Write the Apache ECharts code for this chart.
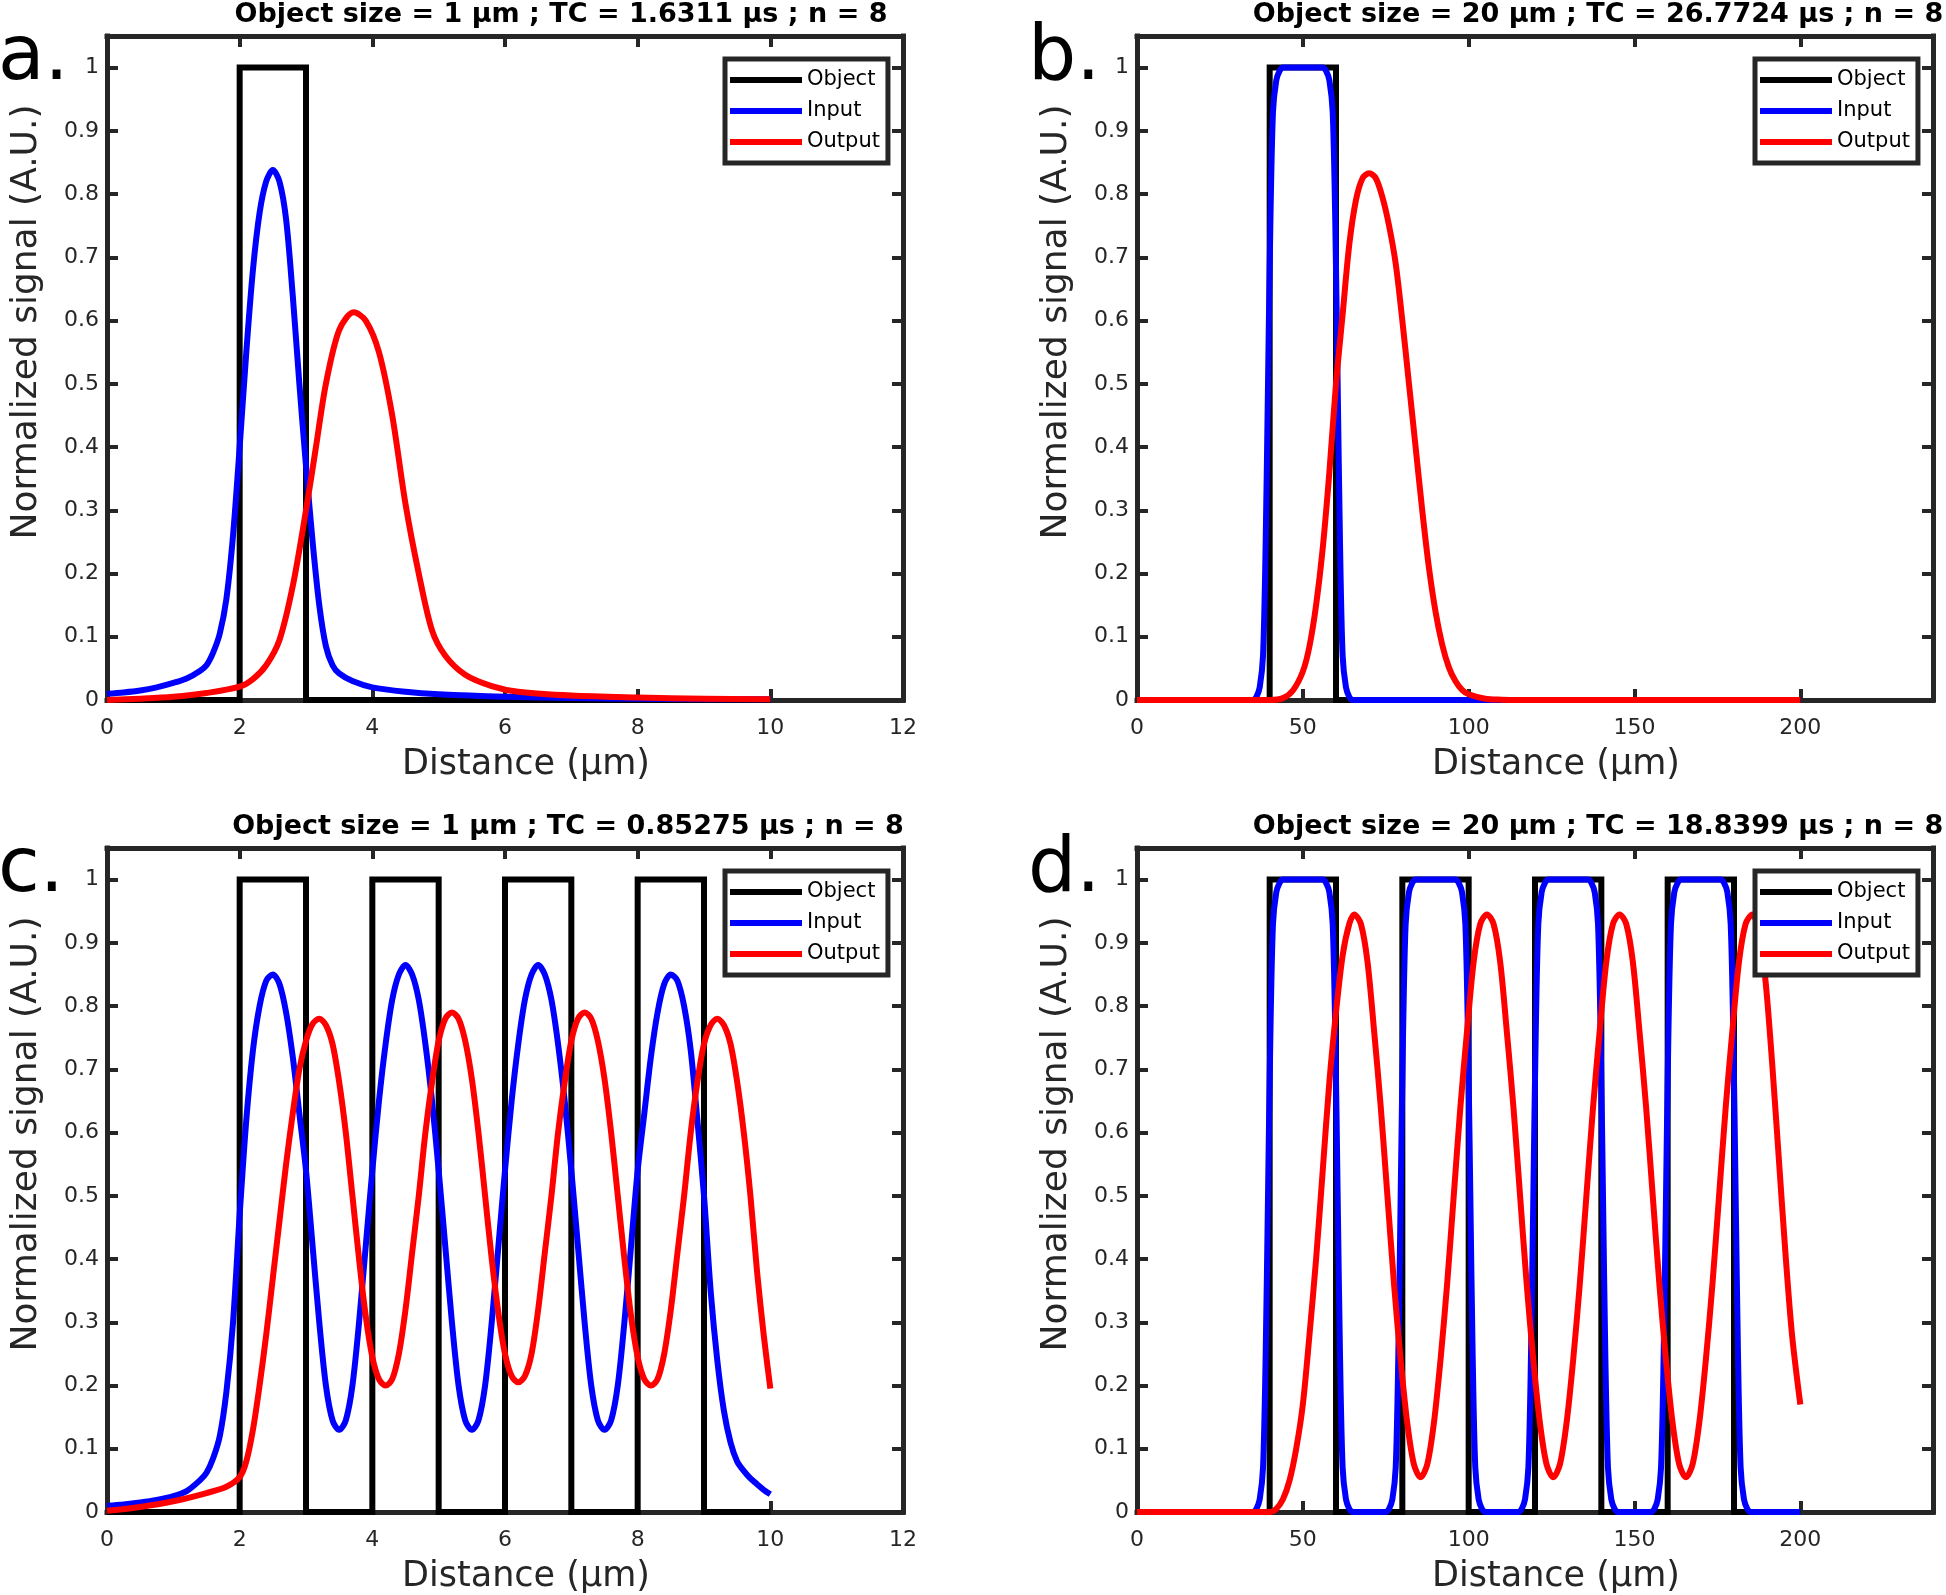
<!DOCTYPE html>
<html>
<head>
<meta charset="utf-8">
<script src="https://cdn.jsdelivr.net/npm/echarts@6/dist/echarts.min.js"></script>
<style>
html,body{margin:0;padding:0;background:#ffffff;}
#chart{width:1946px;height:1595px;}
</style>
</head>
<body>
<div id="chart"></div>
<script>
// ---------------- DATA ----------------
const seriesNames = ['Object', 'Input', 'Output'];
const panelLetters = ['a.', 'b.', 'c.', 'd.'];
const panelTitles = [
  'Object size = 1 µm ; TC = 1.6311 µs ; n = 8',
  'Object size = 20 µm ; TC = 26.7724 µs ; n = 8',
  'Object size = 1 µm ; TC = 0.85275 µs ; n = 8',
  'Object size = 20 µm ; TC = 18.8399 µs ; n = 8'
];
const xAxisTitle = 'Distance (µm)';
const yAxisTitle = 'Normalized signal (A.U.)';
const xMaxSmall = 12, xStepSmall = 2;
const xMaxLarge = 240, xStepLarge = 50;
const yMax = 1.05, yStep = 0.1;

// panel a
const aObject = [[0,0],[2,0],[2,1],[3,1],[3,0],[10,0]];
const aInput = [[0,0.010],[0.25,0.012],[0.5,0.015],[0.75,0.020],[1.0,0.027],[1.2,0.034],[1.4,0.046],[1.5,0.055],[1.6,0.075],[1.7,0.105],[1.8,0.16],[1.9,0.26],[2.0,0.40],[2.1,0.55],[2.2,0.68],[2.3,0.77],[2.4,0.82],[2.5,0.838],[2.6,0.82],[2.7,0.76],[2.8,0.64],[2.9,0.50],[3.0,0.37],[3.1,0.25],[3.2,0.15],[3.3,0.085],[3.4,0.055],[3.5,0.042],[3.7,0.030],[4.0,0.020],[4.5,0.013],[5.0,0.009],[6.0,0.005],[7.0,0.003],[8.0,0.002],[9.0,0.001],[10,0.001]];
const aOutput = [[0,0],[0.5,0.002],[1.0,0.005],[1.5,0.011],[2.0,0.021],[2.2,0.033],[2.4,0.055],[2.6,0.095],[2.8,0.18],[3.0,0.30],[3.15,0.40],[3.3,0.50],[3.5,0.585],[3.72,0.613],[3.9,0.60],[4.1,0.55],[4.3,0.45],[4.5,0.31],[4.7,0.20],[4.9,0.11],[5.1,0.07],[5.4,0.04],[5.8,0.022],[6.2,0.013],[7.0,0.007],[8.0,0.004],[9.0,0.002],[10,0.001]];

// panel b
const bObject = [[0,0],[40,0],[40,1],[60,1],[60,0],[200,0]];
const bInput = [[0,0],[35,0],[36,0.005],[37,0.02],[38,0.07],[38.8,0.25],[39.5,0.5],[40.2,0.75],[41,0.93],[42,0.98],[43,0.995],[44,1],[56,1],[57,0.995],[58,0.98],[59,0.93],[59.8,0.75],[60.5,0.5],[61.2,0.25],[62,0.07],[63,0.02],[64,0.005],[65,0],[200,0]];
const bOutput = [[0,0],[40,0],[44,0.003],[47,0.015],[50,0.045],[52,0.085],[54,0.15],[56,0.24],[58,0.36],[60,0.5],[62,0.61],[64,0.72],[66,0.79],[68,0.825],[70,0.833],[72,0.825],[74,0.795],[76,0.75],[78,0.69],[80,0.6],[82,0.5],[84,0.4],[86,0.3],[88,0.21],[90,0.14],[92,0.088],[94,0.052],[96,0.03],[98,0.016],[100,0.009],[105,0.002],[110,0.0005],[115,0],[200,0]];

// panel c
const cObject = [[0,0],[2,0],[2,1],[3,1],[3,0],[4,0],[4,1],[5,1],[5,0],[6,0],[6,1],[7,1],[7,0],[8,0],[8,1],[9,1],[9,0],[10,0]];
const cInput = [[0,0.010],[0.25,0.012],[0.5,0.015],[0.75,0.019],[1.0,0.025],[1.2,0.033],[1.4,0.05],[1.5,0.062],[1.6,0.085],[1.7,0.12],[1.8,0.19],[1.9,0.30],[2.0,0.47],[2.1,0.62],[2.2,0.73],[2.3,0.80],[2.4,0.84],[2.5,0.85],
  [2.6,0.835],[2.7,0.79],[2.8,0.72],[2.9,0.63],[3.0,0.54],[3.1,0.42],[3.2,0.30],[3.3,0.20],[3.4,0.145],[3.5,0.13],
  [3.6,0.145],[3.7,0.20],[3.8,0.30],[3.9,0.42],[4.0,0.54],[4.1,0.65],[4.2,0.74],[4.3,0.81],[4.4,0.85],[4.5,0.865],
  [4.6,0.85],[4.7,0.81],[4.8,0.74],[4.9,0.65],[5.0,0.54],[5.1,0.42],[5.2,0.30],[5.3,0.20],[5.4,0.145],[5.5,0.13],
  [5.6,0.145],[5.7,0.20],[5.8,0.30],[5.9,0.42],[6.0,0.54],[6.1,0.65],[6.2,0.74],[6.3,0.81],[6.4,0.85],[6.5,0.865],
  [6.6,0.85],[6.7,0.81],[6.8,0.74],[6.9,0.65],[7.0,0.54],[7.1,0.42],[7.2,0.30],[7.3,0.20],[7.4,0.145],[7.5,0.13],
  [7.6,0.145],[7.7,0.20],[7.8,0.30],[7.9,0.42],[8.0,0.54],[8.1,0.63],[8.2,0.72],[8.3,0.79],[8.4,0.835],[8.5,0.85],
  [8.6,0.84],[8.7,0.80],[8.8,0.73],[8.9,0.62],[9.0,0.50],[9.1,0.35],[9.2,0.24],[9.3,0.16],[9.4,0.11],[9.5,0.08],[9.6,0.065],[9.7,0.053],[9.8,0.044],[9.9,0.035],[10,0.028]];
const cOutput = [[0,0.002],[0.5,0.008],[1.0,0.017],[1.5,0.03],[1.8,0.04],[2.0,0.055],[2.1,0.08],[2.2,0.13],[2.3,0.20],[2.4,0.28],[2.5,0.37],[2.6,0.46],[2.7,0.55],[2.8,0.63],[2.9,0.70],[3.0,0.745],[3.1,0.772],[3.2,0.78],
  [3.3,0.77],[3.4,0.74],[3.5,0.68],[3.6,0.60],[3.7,0.50],[3.8,0.40],[3.9,0.31],[4.0,0.245],[4.1,0.21],[4.2,0.20],
  [4.3,0.21],[4.4,0.25],[4.5,0.32],[4.6,0.41],[4.7,0.50],[4.8,0.60],[4.9,0.68],[5.0,0.745],[5.1,0.78],[5.2,0.79],
  [5.3,0.78],[5.4,0.745],[5.5,0.685],[5.6,0.60],[5.7,0.50],[5.8,0.40],[5.9,0.315],[6.0,0.25],[6.1,0.215],[6.2,0.205],
  [6.3,0.215],[6.4,0.25],[6.5,0.32],[6.6,0.41],[6.7,0.50],[6.8,0.60],[6.9,0.68],[7.0,0.745],[7.1,0.78],[7.2,0.79],
  [7.3,0.78],[7.4,0.745],[7.5,0.685],[7.6,0.60],[7.7,0.50],[7.8,0.40],[7.9,0.31],[8.0,0.245],[8.1,0.21],[8.2,0.20],
  [8.3,0.21],[8.4,0.25],[8.5,0.32],[8.6,0.41],[8.7,0.50],[8.8,0.60],[8.9,0.68],[9.0,0.74],[9.1,0.77],[9.2,0.78],
  [9.3,0.77],[9.4,0.74],[9.5,0.68],[9.6,0.60],[9.7,0.50],[9.8,0.38],[9.9,0.28],[10,0.195]];

// panel d
const dObject = [[0,0],[40,0],[40,1],[60,1],[60,0],[80,0],[80,1],[100,1],[100,0],[120,0],[120,1],[140,1],[140,0],[160,0],[160,1],[180,1],[180,0],[200,0]];
const dInput = [[0,0],[35,0],[36,0.005],[37,0.02],[38,0.07],[38.8,0.25],[39.5,0.5],[40.2,0.75],[41,0.93],[42,0.98],[43,0.995],[44,1],[56,1],[57,0.995],[58,0.98],[59,0.93],[59.8,0.75],[60.5,0.5],[61.2,0.25],[62,0.07],[63,0.02],[64,0.005],[65,0],
  [75,0],[76,0.005],[77,0.02],[78,0.07],[78.8,0.25],[79.5,0.5],[80.2,0.75],[81,0.93],[82,0.98],[83,0.995],[84,1],[96,1],[97,0.995],[98,0.98],[99,0.93],[99.8,0.75],[100.5,0.5],[101.2,0.25],[102,0.07],[103,0.02],[104,0.005],[105,0],
  [115,0],[116,0.005],[117,0.02],[118,0.07],[118.8,0.25],[119.5,0.5],[120.2,0.75],[121,0.93],[122,0.98],[123,0.995],[124,1],[136,1],[137,0.995],[138,0.98],[139,0.93],[139.8,0.75],[140.5,0.5],[141.2,0.25],[142,0.07],[143,0.02],[144,0.005],[145,0],
  [155,0],[156,0.005],[157,0.02],[158,0.07],[158.8,0.25],[159.5,0.5],[160.2,0.75],[161,0.93],[162,0.98],[163,0.995],[164,1],[176,1],[177,0.995],[178,0.98],[179,0.93],[179.8,0.75],[180.5,0.5],[181.2,0.25],[182,0.07],[183,0.02],[184,0.005],[185,0],[200,0]];
const dOutput = [[0,0],[40,0],[42,0.005],[44,0.02],[46,0.05],[48,0.1],[50,0.17],[52,0.28],[54,0.4],[56,0.54],[58,0.68],[60,0.79],[62,0.88],[64,0.93],[65.5,0.945],
  [67.5,0.93],[69.5,0.87],[71.5,0.76],[73.5,0.64],[75.5,0.5],[77.5,0.36],[79.5,0.24],[81.5,0.14],[83.5,0.075],[85.5,0.055],
  [87.5,0.075],[89.5,0.14],[91.5,0.24],[93.5,0.36],[95.5,0.5],[97.5,0.64],[99.5,0.76],[101.5,0.87],[103.5,0.93],[105.5,0.945],
  [107.5,0.93],[109.5,0.87],[111.5,0.76],[113.5,0.64],[115.5,0.5],[117.5,0.36],[119.5,0.24],[121.5,0.14],[123.5,0.075],[125.5,0.055],
  [127.5,0.075],[129.5,0.14],[131.5,0.24],[133.5,0.36],[135.5,0.5],[137.5,0.64],[139.5,0.76],[141.5,0.87],[143.5,0.93],[145.5,0.945],
  [147.5,0.93],[149.5,0.87],[151.5,0.76],[153.5,0.64],[155.5,0.5],[157.5,0.36],[159.5,0.24],[161.5,0.14],[163.5,0.075],[165.5,0.055],
  [167.5,0.075],[169.5,0.14],[171.5,0.24],[173.5,0.36],[175.5,0.5],[177.5,0.64],[179.5,0.76],[181.5,0.87],[183.5,0.93],[185.5,0.945],
  [187.5,0.92],[189.5,0.84],[191.5,0.71],[193.5,0.56],[195.5,0.41],[197.5,0.28],[200,0.17]];

// ---------------- LAYOUT / STYLE ----------------
const panelData = [
  [aObject, aInput, aOutput],
  [bObject, bInput, bOutput],
  [cObject, cInput, cOutput],
  [dObject, dInput, dOutput]
];
const panelXMax = [xMaxSmall, xMaxLarge, xMaxSmall, xMaxLarge];
const panelXStep = [xStepSmall, xStepLarge, xStepSmall, xStepLarge];
const gridLeft = [107, 1137, 107, 1137];
const gridTop = [36, 36, 848, 848];
const titleOffset = [454, 461, 461, 461];
const gridW = 796, gridH = 664;
const lineColors = ['#000000', '#0000ff', '#ff0000'];
const axisColor = '#262626';
const FONT = '"DejaVu Sans", Verdana, sans-serif';

const grids = [], xAxes = [], yAxes = [], series = [], legends = [], graphics = [];

for (let i = 0; i < 4; i++) {
  grids.push({left: gridLeft[i], top: gridTop[i], width: gridW, height: gridH, containLabel: false, outerBoundsMode: 'none', show: false});
  const baseAxisLine = {show: true, onZero: false, lineStyle: {color: axisColor, width: 5, cap: 'square'}};
  const baseTick = {show: true, inside: true, length: 11, lineStyle: {color: axisColor, width: 4}};
  ['bottom', 'top'].forEach((pos, k) => {
    xAxes.push({
      type: 'value', gridIndex: i, position: pos, min: 0, max: panelXMax[i], interval: panelXStep[i],
      axisLine: baseAxisLine, axisTick: baseTick, splitLine: {show: false},
      axisLabel: {show: k === 0, showMaxLabel: panelXMax[i] === xMaxSmall, margin: 17, fontSize: 22, fontFamily: FONT, color: axisColor}
    });
  });
  ['left', 'right'].forEach((pos, k) => {
    yAxes.push({
      type: 'value', gridIndex: i, position: pos, min: 0, max: yMax, interval: yStep,
      axisLine: baseAxisLine, axisTick: baseTick, splitLine: {show: false},
      axisLabel: {show: k === 0, showMaxLabel: false, margin: 8, fontSize: 22, fontFamily: FONT, color: axisColor}
    });
  });
  for (let s = 0; s < 3; s++) {
    series.push({
      type: 'line', name: seriesNames[s], xAxisIndex: 2 * i, yAxisIndex: 2 * i,
      data: panelData[i][s], showSymbol: false, symbol: 'none', clip: false,
      smooth: s === 0 ? false : 0.3,
      lineStyle: {color: lineColors[s], width: 6, join: s === 0 ? 'miter' : 'round', cap: 'butt'},
      itemStyle: {color: lineColors[s]}, z: 2 + s, silent: true, animation: false
    });
  }
  legends.push({
    show: true, orient: 'vertical', left: gridLeft[i] + 618, top: gridTop[i] + 23,
    data: seriesNames, icon: 'rect', itemWidth: 72, itemHeight: 6, itemGap: 7,
    padding: [9, 8, 9, 5], backgroundColor: '#ffffff', borderColor: axisColor, borderWidth: 5,
    selectedMode: false, textStyle: {fontSize: 21, fontFamily: FONT, color: '#000000', lineHeight: 24, padding: [0, 0, 0, 0]}, z: 10
  });
  // titles
  graphics.push({type: 'text', x: gridLeft[i] + titleOffset[i], y: gridTop[i] - 21, z: 20,
    style: {text: panelTitles[i], font: 'bold 27px ' + FONT, fill: '#000000', align: 'center', verticalAlign: 'middle', textAlign: 'center', textVerticalAlign: 'middle'}});
  // panel letters
  graphics.push({type: 'text', x: gridLeft[i] - 109, y: gridTop[i] + 23, z: 20,
    style: {text: panelLetters[i], font: '76px ' + FONT, fill: '#000000', align: 'left', verticalAlign: 'middle', textAlign: 'left', textVerticalAlign: 'middle'}});
  // y axis title
  graphics.push({type: 'text', x: gridLeft[i] - 80, y: gridTop[i] + 286, rotation: Math.PI / 2, z: 20,
    style: {text: yAxisTitle, font: '36px ' + FONT, fill: axisColor, align: 'center', verticalAlign: 'middle', textAlign: 'center', textVerticalAlign: 'middle'}});
  // x axis title
  graphics.push({type: 'text', x: gridLeft[i] + 419, y: gridTop[i] + 729, z: 20,
    style: {text: xAxisTitle, font: '35px ' + FONT, fill: axisColor, align: 'center', verticalAlign: 'middle', textAlign: 'center', textVerticalAlign: 'middle'}});
}

const chart = echarts.init(document.getElementById('chart'), null, {renderer: 'canvas', width: 1946, height: 1595});
chart.setOption({
  backgroundColor: '#ffffff',
  animation: false,
  grid: grids,
  xAxis: xAxes,
  yAxis: yAxes,
  legend: legends,
  series: series,
  graphic: {elements: graphics}
});
</script>
</body>
</html>
